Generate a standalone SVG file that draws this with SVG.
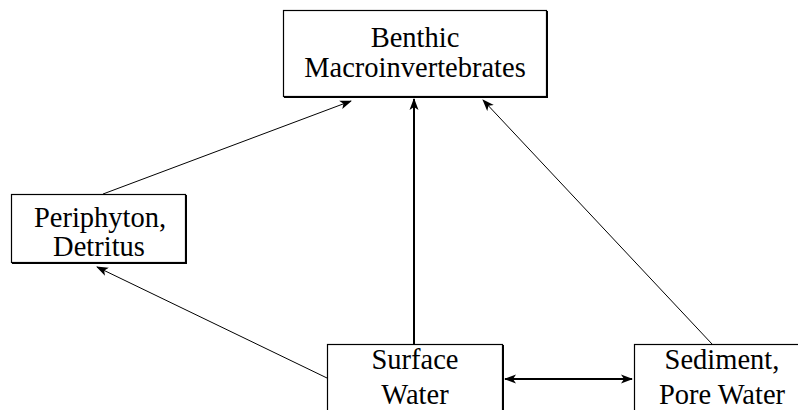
<svg xmlns="http://www.w3.org/2000/svg" width="798" height="410" viewBox="0 0 798 410">
<defs>
<style>
.box{fill:#fff;stroke:#000;stroke-width:1.2}
.sh{fill:none;stroke:#000;stroke-width:2}
.t{font-family:"Liberation Serif","Times New Roman",serif;font-size:28.5px;fill:#000;text-anchor:middle}
.thin{stroke:#000;stroke-width:1;fill:none}
.thick{stroke:#000;stroke-width:2;fill:none}
</style>
<marker id="ah" viewBox="0 0 12 10" refX="11" refY="5" markerWidth="12" markerHeight="10" markerUnits="userSpaceOnUse" orient="auto-start-reverse">
<path d="M0,0.5 L12,5 L0,9.5 L3,5 Z" fill="#000"/>
</marker>
</defs>
<g id="connectors">
<line class="thin" x1="103" y1="194" x2="351" y2="101" marker-end="url(#ah)"/>
<line class="thick" x1="414" y1="344" x2="414" y2="99" marker-end="url(#ah)"/>
<line class="thin" x1="712" y1="344" x2="483" y2="100" marker-end="url(#ah)"/>
<line class="thin" x1="327" y1="378" x2="97" y2="267" marker-end="url(#ah)"/>
<line class="thick" x1="505" y1="379" x2="632" y2="379" marker-start="url(#ah)" marker-end="url(#ah)"/>
</g>
<g id="benthic">
<rect class="box" x="283.5" y="10.5" width="263" height="86"/>
<polyline class="sh" points="547,11 547,97 284,97"/>
<text class="t" x="415" y="47">Benthic</text>
<text class="t" x="415" y="77">Macroinvertebrates</text>
</g>
<g id="periphyton">
<rect class="box" x="11.5" y="194.5" width="174" height="68"/>
<polyline class="sh" points="186,195 186,263 12,263"/>
<text class="t" x="100" y="227">Periphyton,</text>
<text class="t" x="99" y="256">Detritus</text>
</g>
<g id="surface">
<rect class="box" x="327.5" y="344.5" width="175" height="80"/>
<polyline class="sh" points="503,345 503,425"/>
<text class="t" x="415" y="369">Surface</text>
<text class="t" x="415" y="404">Water</text>
</g>
<g id="sediment">
<rect class="box" x="634.5" y="344.5" width="180" height="80"/>
<text class="t" x="722" y="369">Sediment,</text>
<text class="t" x="722" y="404">Pore Water</text>
</g>
</svg>
